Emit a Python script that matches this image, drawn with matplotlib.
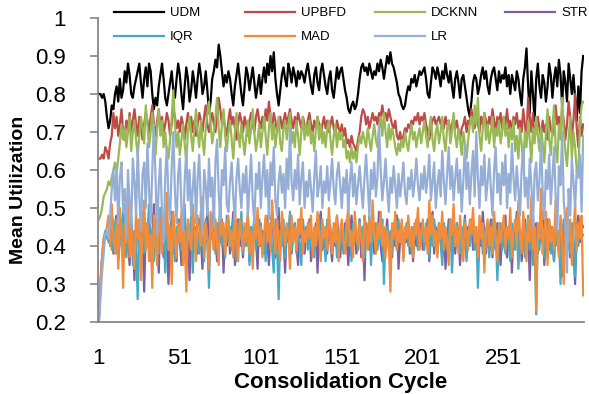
import numpy as np
import matplotlib
matplotlib.use('Agg')
import matplotlib.pyplot as plt
from matplotlib.ticker import FuncFormatter

plt.rcParams['font.family'] = ['Liberation Sans', 'DejaVu Sans']

# Mean utilization per consolidation cycle (in hundredths)
cycles = np.arange(1, 301)

udm = np.array([
    80, 80, 79, 80, 78, 74, 71, 73, 77, 76, 80, 82, 78, 84, 79, 81, 86, 83, 88, 85,
    80, 79, 82, 84, 86, 88, 83, 79, 84, 87, 82, 88, 86, 80, 76, 79, 77, 82, 85, 88,
    84, 79, 77, 80, 83, 86, 81, 79, 84, 88, 85, 80, 76, 82, 87, 84, 78, 81, 86, 83,
    79, 84, 88, 85, 80, 82, 86, 81, 75, 78, 84, 86, 89, 87, 93, 90, 86, 82, 85, 83,
    86, 84, 80, 77, 82, 85, 88, 84, 80, 77, 82, 87, 85, 81, 84, 87, 83, 79, 82, 85,
    80, 84, 87, 83, 88, 85, 90, 86, 91, 84, 80, 77, 81, 85, 87, 84, 82, 88, 86, 83,
    87, 85, 82, 86, 84, 86, 85, 83, 86, 88, 85, 82, 80, 85, 87, 83, 81, 86, 88, 85,
    82, 80, 84, 86, 81, 79, 83, 87, 84, 86, 87, 84, 81, 79, 76, 75, 77, 78, 76, 77,
    80, 84, 87, 88, 86, 87, 85, 88, 86, 84, 86, 85, 88, 86, 89, 87, 84, 87, 90, 88,
    91, 88, 87, 85, 83, 80, 79, 77, 76, 77, 80, 82, 81, 84, 83, 85, 82, 84, 86, 85,
    86, 87, 84, 80, 79, 83, 87, 86, 84, 87, 85, 82, 86, 84, 88, 85, 83, 86, 82, 79,
    84, 86, 83, 79, 84, 85, 82, 79, 76, 74, 78, 83, 85, 84, 80, 82, 85, 87, 84, 86,
    82, 80, 84, 86, 87, 84, 81, 86, 83, 85, 84, 87, 82, 85, 80, 85, 83, 81, 86, 84,
    80, 77, 84, 87, 92, 82, 75, 86, 80, 73, 84, 88, 82, 79, 85, 83, 78, 82, 88, 85,
    79, 84, 87, 82, 89, 85, 77, 86, 83, 78, 88, 84, 80, 85, 79, 73, 82, 75, 86, 90]) / 100

upbfd = np.array([
    63, 63, 64, 63, 66, 65, 63, 67, 69, 75, 71, 74, 69, 72, 76, 70, 68, 73, 71, 75,
    70, 73, 76, 72, 69, 74, 71, 68, 72, 75, 73, 70, 74, 77, 72, 69, 73, 76, 71, 74,
    70, 72, 75, 73, 69, 72, 76, 74, 71, 73, 70, 74, 72, 68, 72, 75, 71, 74, 70, 73,
    69, 72, 75, 73, 70, 74, 77, 72, 70, 73, 75, 72, 70, 74, 79, 76, 72, 74, 71, 69,
    73, 76, 72, 74, 71, 68, 72, 75, 73, 70, 74, 72, 69, 73, 75, 72, 70, 74, 76, 73,
    71, 74, 72, 76, 73, 78, 74, 71, 75, 73, 70, 72, 74, 71, 73, 75, 72, 74, 76, 73,
    71, 74, 72, 75, 73, 71, 74, 72, 70, 73, 75, 72, 70, 73, 71, 74, 72, 69, 72, 74,
    71, 73, 70, 72, 74, 71, 69, 73, 71, 70, 72, 69, 71, 67, 68, 66, 69, 67, 66, 65,
    68, 70, 74, 76, 75, 72, 74, 71, 73, 75, 73, 74, 72, 75, 74, 77, 74, 75, 73, 76,
    74, 72, 71, 73, 69, 68, 70, 67, 69, 71, 70, 72, 71, 73, 72, 74, 73, 75, 72, 74,
    73, 75, 72, 70, 68, 71, 73, 74, 72, 73, 74, 72, 73, 71, 74, 72, 73, 70, 72, 74,
    71, 73, 70, 68, 71, 72, 74, 70, 73, 72, 76, 73, 71, 74, 72, 70, 74, 72, 75, 73,
    71, 74, 72, 76, 73, 70, 74, 72, 75, 71, 74, 72, 76, 71, 73, 70, 74, 72, 75, 71,
    73, 70, 76, 72, 68, 79, 74, 70, 75, 68, 72, 74, 71, 69, 73, 70, 72, 68, 74, 71,
    69, 73, 77, 72, 74, 70, 76, 73, 68, 72, 78, 74, 69, 73, 80, 71, 66, 74, 69, 72]) / 100

dcknn = np.array([
    47, 48, 50, 53, 54, 55, 57, 56, 58, 60, 62, 59, 63, 67, 72, 68, 71, 66, 70, 74,
    65, 70, 73, 68, 64, 69, 74, 71, 67, 77, 72, 66, 70, 75, 68, 64, 71, 76, 69, 73,
    66, 70, 65, 63, 68, 74, 81, 72, 66, 70, 64, 68, 72, 67, 62, 70, 74, 69, 65, 71,
    76, 70, 66, 73, 68, 64, 71, 75, 78, 72, 67, 70, 74, 79, 71, 66, 72, 76, 69, 65,
    70, 73, 68, 63, 70, 75, 70, 66, 72, 68, 64, 69, 73, 67, 71, 76, 70, 65, 68, 72,
    66, 70, 74, 69, 64, 71, 75, 68, 72, 66, 70, 74, 67, 65, 71, 73, 68, 72, 75, 67,
    70, 66, 73, 69, 64, 70, 74, 68, 72, 69, 73, 67, 70, 65, 71, 74, 68, 72, 67, 70,
    66, 71, 73, 68, 64, 69, 72, 66, 70, 68, 70, 66, 68, 63, 65, 62, 66, 63, 65, 62,
    66, 69, 67, 70, 68, 66, 71, 68, 65, 69, 72, 68, 66, 71, 74, 69, 75, 70, 66, 72,
    68, 71, 69, 66, 64, 67, 65, 68, 66, 70, 67, 65, 69, 72, 68, 70, 66, 69, 71, 67,
    70, 73, 69, 66, 71, 74, 68, 65, 70, 72, 67, 70, 74, 68, 65, 71, 73, 67, 70, 75,
    69, 66, 71, 68, 64, 70, 67, 63, 68, 72, 74, 70, 77, 72, 79, 69, 65, 71, 75, 68,
    72, 67, 70, 74, 66, 71, 69, 73, 67, 70, 74, 69, 72, 66, 71, 68, 73, 65, 69, 63,
    71, 67, 61, 70, 66, 73, 68, 62, 71, 67, 74, 69, 65, 71, 67, 62, 70, 76, 68, 64,
    71, 77, 66, 62, 72, 68, 79, 70, 65, 61, 68, 74, 63, 70, 66, 60, 59, 72, 77, 78]) / 100

strr = np.array([
    20, 29, 36, 41, 43, 42, 44, 40, 46, 38, 44, 48, 36, 42, 47, 39, 45, 50, 41, 35,
    46, 42, 31, 47, 44, 38, 49, 43, 28, 45, 40, 47, 36, 43, 51, 39, 45, 33, 48, 42,
    37, 46, 41, 30, 44, 49, 38, 43, 36, 47, 42, 35, 48, 44, 39, 46, 31, 43, 49, 40,
    45, 38, 47, 42, 34, 46, 41, 50, 37, 44, 48, 39, 43, 36, 45, 41, 47, 33, 44, 40,
    46, 38, 43, 49, 35, 42, 47, 40, 44, 37, 45, 41, 48, 36, 43, 39, 46, 42, 34, 47,
    40, 44, 38, 47, 42, 35, 45, 49, 41, 37, 44, 50, 39, 46, 42, 33, 45, 41, 48, 38,
    43, 46, 40, 35, 47, 42, 44, 38, 45, 41, 47, 36, 43, 40, 46, 33, 44, 49, 39, 42,
    45, 38, 47, 41, 36, 44, 40, 48, 42, 37, 44, 39, 46, 42, 35, 43, 48, 40, 45, 38,
    42, 47, 37, 44, 31, 46, 41, 39, 45, 43, 38, 46, 42, 49, 40, 36, 44, 41, 47, 39,
    43, 37, 45, 40, 48, 34, 42, 46, 39, 44, 41, 47, 38, 43, 36, 45, 40, 48, 42, 46,
    39, 44, 41, 47, 36, 43, 49, 38, 45, 40, 46, 42, 37, 44, 34, 41, 47, 39, 45, 42,
    38, 46, 43, 35, 44, 40, 48, 37, 45, 41, 47, 39, 44, 42, 36, 45, 40, 49, 43, 38,
    45, 41, 47, 37, 44, 39, 46, 42, 35, 44, 40, 48, 37, 43, 46, 33, 45, 41, 49, 38,
    44, 36, 42, 47, 39, 45, 31, 43, 48, 40, 46, 38, 44, 41, 49, 35, 43, 47, 39, 45,
    41, 36, 48, 43, 38, 46, 32, 44, 40, 47, 43, 37, 45, 39, 30, 44, 48, 41, 46, 45]) / 100

iqr = np.array([
    20, 30, 37, 42, 44, 43, 41, 46, 39, 47, 43, 38, 48, 45, 40, 49, 44, 37, 46, 42,
    48, 35, 44, 40, 26, 45, 42, 49, 38, 46, 43, 51, 39, 44, 36, 47, 42, 38, 50, 41,
    45, 33, 47, 42, 39, 48, 44, 36, 45, 41, 47, 39, 43, 51, 37, 45, 42, 48, 33, 44,
    40, 46, 38, 49, 43, 36, 47, 41, 29, 45, 42, 50, 38, 46, 43, 52, 40, 44, 37, 48,
    41, 45, 39, 47, 43, 36, 46, 42, 49, 38, 44, 40, 47, 35, 45, 42, 48, 39, 44, 41,
    46, 38, 43, 36, 48, 42, 45, 39, 33, 47, 41, 26, 44, 40, 47, 37, 45, 42, 49, 39,
    43, 46, 38, 44, 41, 35, 47, 42, 45, 39, 46, 40, 43, 37, 45, 42, 48, 38, 44, 41,
    36, 47, 42, 45, 39, 43, 46, 37, 44, 40, 45, 38, 43, 47, 40, 44, 36, 46, 41, 43,
    39, 47, 42, 45, 37, 44, 40, 48, 35, 45, 42, 46, 39, 44, 41, 47, 30, 43, 45, 40,
    44, 38, 46, 42, 39, 47, 41, 45, 37, 43, 46, 40, 44, 38, 45, 42, 47, 39, 44, 41,
    45, 39, 46, 42, 37, 44, 40, 47, 43, 38, 45, 41, 35, 46, 42, 39, 44, 47, 33, 43,
    40, 46, 42, 38, 45, 41, 47, 36, 44, 40, 43, 47, 39, 45, 29, 42, 46, 38, 44, 41,
    45, 37, 43, 47, 40, 44, 31, 42, 46, 39, 43, 38, 45, 41, 36, 46, 42, 39, 47, 34,
    44, 40, 46, 37, 43, 48, 39, 45, 35, 42, 22, 44, 39, 46, 41, 37, 45, 42, 47, 38,
    43, 36, 46, 40, 44, 30, 42, 47, 39, 45, 41, 38, 46, 43, 32, 44, 40, 47, 42, 43]) / 100

mad = np.array([
    20, 31, 37, 42, 43, 45, 48, 40, 51, 42, 38, 47, 34, 50, 44, 29, 46, 41, 53, 37,
    45, 40, 34, 49, 42, 47, 31, 44, 52, 39, 46, 36, 43, 29, 48, 41, 35, 50, 44, 38,
    47, 42, 54, 39, 45, 30, 49, 43, 37, 46, 41, 49, 35, 44, 28, 47, 42, 39, 51, 45,
    36, 48, 43, 40, 53, 37, 46, 42, 34, 49, 44, 39, 47, 41, 35, 50, 43, 46, 38, 45,
    48, 40, 44, 37, 51, 42, 36, 47, 43, 39, 46, 41, 49, 38, 44, 34, 47, 42, 50, 40,
    45, 37, 43, 48, 41, 46, 39, 52, 44, 38, 47, 42, 36, 49, 44, 40, 46, 43, 34, 48,
    41, 45, 39, 47, 43, 50, 38, 44, 41, 46, 42, 48, 37, 45, 40, 49, 43, 36, 47, 42,
    45, 39, 50, 43, 38, 46, 41, 48, 36, 44, 47, 42, 38, 45, 51, 40, 44, 37, 49, 43,
    40, 46, 42, 36, 48, 44, 39, 47, 41, 52, 43, 38, 46, 42, 49, 40, 45, 37, 44, 41,
    28, 46, 42, 49, 39, 44, 41, 47, 36, 45, 42, 48, 40, 45, 37, 46, 43, 50, 39, 44,
    47, 41, 45, 38, 52, 43, 48, 40, 44, 37, 46, 42, 49, 39, 45, 41, 35, 47, 43, 51,
    40, 45, 38, 48, 42, 36, 46, 44, 39, 47, 43, 50, 41, 45, 37, 48, 42, 46, 33, 44,
    47, 40, 45, 38, 49, 43, 36, 46, 41, 44, 48, 39, 45, 42, 50, 37, 44, 47, 40, 52,
    43, 38, 49, 44, 36, 47, 41, 53, 39, 45, 23, 46, 42, 55, 38, 44, 49, 35, 47, 41,
    45, 39, 52, 43, 37, 48, 42, 30, 46, 50, 41, 47, 35, 44, 51, 39, 46, 42, 48, 27]) / 100

lr = np.array([
    19, 26, 33, 38, 43, 44, 42, 48, 55, 60, 52, 61, 46, 58, 62, 49, 55, 42, 60, 52,
    45, 63, 57, 48, 66, 53, 44, 59, 62, 50, 67, 55, 46, 60, 72, 58, 43, 56, 63, 49,
    41, 58, 66, 52, 47, 61, 70, 54, 46, 59, 63, 50, 44, 57, 65, 52, 60, 48, 55, 62,
    46, 58, 64, 51, 43, 60, 56, 48, 63, 53, 58, 45, 62, 68, 54, 47, 60, 56, 66, 51,
    49, 57, 62, 53, 47, 58, 63, 55, 50, 59, 54, 61, 48, 56, 64, 52, 46, 59, 55, 62,
    50, 58, 64, 53, 60, 47, 62, 56, 66, 52, 48, 57, 61, 54, 59, 50, 63, 55, 71, 57,
    52, 60, 55, 64, 51, 58, 62, 50, 57, 53, 60, 55, 49, 58, 65, 53, 56, 61, 50, 57,
    54, 61, 52, 57, 63, 55, 51, 59, 62, 56, 50, 58, 54, 60, 49, 57, 62, 53, 59, 51,
    56, 61, 55, 50, 58, 64, 56, 48, 60, 55, 62, 53, 58, 72, 60, 52, 57, 63, 55, 49,
    58, 54, 61, 56, 50, 59, 53, 57, 62, 54, 51, 58, 55, 60, 53, 57, 63, 56, 52, 59,
    55, 61, 54, 58, 64, 52, 57, 62, 50, 56, 60, 53, 65, 57, 51, 59, 66, 55, 61, 52,
    58, 63, 54, 60, 49, 57, 67, 55, 62, 51, 59, 65, 53, 70, 58, 50, 61, 56, 64, 52,
    57, 63, 55, 48, 60, 66, 54, 59, 51, 62, 56, 64, 50, 59, 54, 67, 58, 52, 61, 55,
    48, 60, 66, 53, 58, 50, 63, 56, 45, 59, 62, 52, 57, 68, 54, 47, 60, 55, 64, 51,
    58, 66, 53, 44, 61, 56, 70, 52, 46, 33, 55, 48, 63, 57, 50, 60, 58, 64, 49, 69]) / 100

names = ['UDM', 'UPBFD', 'DCKNN', 'STR', 'IQR', 'MAD', 'LR']
colors = ['#000000', '#BE4B48', '#98B954', '#7D60A0', '#46AAC5', '#F08C3C', '#94AED6']
values = [udm, upbfd, dcknn, strr, iqr, mad, lr]

fig = plt.figure(figsize=(5.89, 3.94), dpi=100)
ax = fig.add_axes([98 / 589, 1 - 322 / 394, 486 / 589, 304 / 394])

lines = []
for name, vals, col in zip(names, values, colors):
    ln, = ax.plot(cycles, vals, color=col, lw=1.6, label=name, solid_joinstyle='round')
    lines.append(ln)

ax.set_xlim(0.5, 300.5)
ax.set_ylim(0.2, 1.0)
ax.set_xticks([1, 51, 101, 151, 201, 251])
ax.set_yticks(np.arange(0.2, 1.01, 0.1))
ax.yaxis.set_major_formatter(FuncFormatter(lambda v, p: f'{v:.1f}'.rstrip('0').rstrip('.')))

for side in ['top', 'right']:
    ax.spines[side].set_visible(False)
for side in ['left', 'bottom']:
    ax.spines[side].set_color('#868686')
    ax.spines[side].set_linewidth(1.3)

ax.tick_params(axis='x', length=0, labelsize=16, pad=19)
ax.tick_params(axis='y', length=6, width=1.2, color='#868686', direction='out',
               labelsize=16, pad=17)

fig.text(341 / 589, 1 - 388 / 394, 'Consolidation Cycle', ha='center', va='baseline',
         fontsize=16, fontweight='bold')
fig.text(19 / 589, 1 - 190 / 394, 'Mean Utilization', ha='center', va='center',
         rotation=90, fontsize=14, fontweight='bold')

# legend: four fixed-width columns, two rows filled row by row
col_groups = [[0, 4], [1, 5], [2, 6], [3]]
col_x = [114, 245, 375, 505]
for grp, x0 in zip(col_groups, col_x):
    fig.legend([lines[i] for i in grp], [names[i] for i in grp],
               loc='upper left', bbox_to_anchor=(x0 / 589, 1 - 7 / 394), frameon=False,
               fontsize=9.5, handlelength=3.8, handletextpad=0.45,
               labelspacing=0.9, borderpad=0, borderaxespad=0)

fig.savefig('out.png', dpi=100)
